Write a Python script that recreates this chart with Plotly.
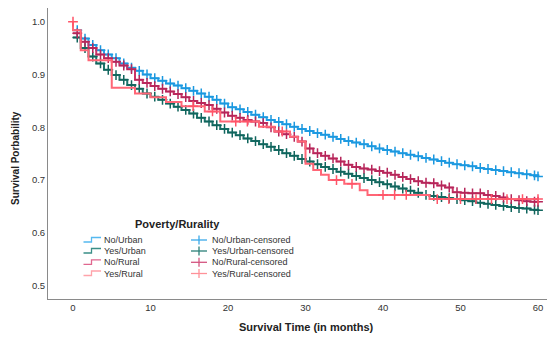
import plotly.graph_objects as go

# ---------------- data ----------------
months = list(range(0, 61))

no_urban = [0.984, 0.968, 0.956, 0.946, 0.938, 0.931, 0.921, 0.913, 0.907, 0.900,
            0.893, 0.888, 0.883, 0.879, 0.874, 0.869, 0.864, 0.858, 0.852, 0.845,
            0.838, 0.834, 0.829, 0.824, 0.819, 0.814, 0.810, 0.806, 0.801, 0.797,
            0.793, 0.789, 0.786, 0.782, 0.778, 0.774, 0.771, 0.768, 0.764, 0.760,
            0.757, 0.754, 0.751, 0.748, 0.745, 0.742, 0.739, 0.736, 0.733, 0.730,
            0.728, 0.726, 0.723, 0.721, 0.719, 0.717, 0.715, 0.713, 0.711, 0.709,
            0.707]

yes_urban = [0.970, 0.950, 0.934, 0.921, 0.909, 0.899, 0.890, 0.880, 0.873, 0.864,
             0.858, 0.852, 0.845, 0.839, 0.833, 0.826, 0.818, 0.811, 0.804, 0.797,
             0.790, 0.785, 0.779, 0.774, 0.768, 0.763, 0.757, 0.751, 0.746, 0.740,
             0.735, 0.730, 0.725, 0.721, 0.716, 0.712, 0.708, 0.704, 0.700, 0.696,
             0.692, 0.688, 0.684, 0.680, 0.676, 0.672, 0.670, 0.668, 0.666, 0.664,
             0.662, 0.660, 0.657, 0.655, 0.653, 0.651, 0.649, 0.647, 0.646, 0.644,
             0.643]

no_rural = [0.978, 0.962, 0.950, 0.938, 0.931, 0.924, 0.917, 0.910, 0.890, 0.884,
            0.878, 0.873, 0.868, 0.863, 0.857, 0.850, 0.846, 0.842, 0.835, 0.828,
            0.822, 0.818, 0.814, 0.811, 0.808, 0.800, 0.792, 0.787, 0.782, 0.773,
            0.760, 0.751, 0.746, 0.741, 0.735, 0.729, 0.725, 0.722, 0.720, 0.717,
            0.714, 0.710, 0.706, 0.702, 0.698, 0.695, 0.694, 0.690, 0.686, 0.677,
            0.676, 0.675, 0.675, 0.672, 0.670, 0.667, 0.664, 0.662, 0.660, 0.659,
            0.659]

yes_rural_times = [0, 0, 1, 2, 5, 8, 10, 12, 14, 17, 19, 24, 26, 28, 29, 30, 31,
                   32, 33, 35, 37, 38, 46, 60]
yes_rural_vals = [1.000, 0.984, 0.946, 0.927, 0.875, 0.864, 0.857, 0.848, 0.840,
                  0.830, 0.811, 0.801, 0.792, 0.782, 0.773, 0.731, 0.719, 0.710,
                  0.700, 0.693, 0.681, 0.672, 0.664, 0.664]
yes_rural_censor_times = [0, 15.5, 18, 21, 22.5, 27, 34, 36, 40, 41.5, 43, 47, 48.5,
                          50, 52, 54, 56, 58, 60]

series_names = ["No/Urban", "Yes/Urban", "No/Rural", "Yes/Rural"]
line_colors = ["#2aa3e8", "#1d746c", "#c93467", "#ff6676"]
mark_colors = ["#1b98df", "#10655d", "#b5265a", "#ff5468"]
legend_line_colors = ["#55b9f0", "#3a8f87", "#e0678f", "#ffa3aa"]
legend_mark_colors = ["#3aa9ea", "#2b7f77", "#d45580", "#ff9198"]

y_ticks = [0.5, 0.6, 0.7, 0.8, 0.9, 1.0]
x_ticks = [0, 10, 20, 30, 40, 50, 60]


def step_value(times, vals, t):
    v = vals[0]
    for ti, vi in zip(times, vals):
        if ti <= t:
            v = vi
    return v


fig = go.Figure()

curves = [(months, no_urban), (months, yes_urban), (months, no_rural)]
for i, (tx, sv) in enumerate(curves):
    fig.add_trace(go.Scatter(x=tx, y=sv, mode="lines", line_shape="hv",
                             line=dict(color=line_colors[i], width=2),
                             showlegend=False, hoverinfo="skip"))
    cx = [t + 0.55 for t in tx[:-1]] + [tx[-1]]
    cy = sv[:-1] + [sv[-1]]
    fig.add_trace(go.Scatter(x=cx, y=cy, mode="markers",
                             marker=dict(symbol="cross-thin", size=7,
                                         line=dict(color=mark_colors[i], width=1.5)),
                             showlegend=False, hoverinfo="skip"))

fig.add_trace(go.Scatter(x=yes_rural_times, y=yes_rural_vals, mode="lines",
                         line_shape="hv", line=dict(color=line_colors[3], width=2),
                         showlegend=False, hoverinfo="skip"))
cy = [step_value(yes_rural_times, yes_rural_vals, t) if t > 0 else 1.0
      for t in yes_rural_censor_times]
fig.add_trace(go.Scatter(x=yes_rural_censor_times, y=cy, mode="markers",
                         marker=dict(symbol="cross-thin", size=7,
                                     line=dict(color=mark_colors[3], width=1.5)),
                         showlegend=False, hoverinfo="skip"))

# ---------------- layout ----------------
# page has an 8px body margin; positions below are page pixels
OFF = 8
PL, PR, PT, PB = 48, 555, 8, 299       # plot area in page pixels
W, H = 555 - OFF, 338 - OFF
L, T = PL - OFF, PT - OFF
R = W - (PR - OFF)
B = H - (PB - OFF)
pw, ph = PR - PL, PB - PT


def xp(px):
    return (px - PL) / pw


def yp(py):
    return (PB - py) / ph


annotations = [
    dict(text="<b>Survival Time (in months)</b>", x=xp(306), y=yp(327), xref="paper",
         yref="paper", showarrow=False, xanchor="center", yanchor="middle",
         font=dict(size=11, color="#222")),
    dict(text="<b>Survival Porbability</b>", x=xp(16), y=yp(158), xref="paper",
         yref="paper", showarrow=False, xanchor="center", yanchor="middle",
         textangle=-90, font=dict(size=10, color="#222")),
    dict(text="<b>Poverty/Rurality</b>", x=xp(177), y=yp(223.5), xref="paper",
         yref="paper", showarrow=False, xanchor="center", yanchor="middle",
         font=dict(size=11, color="#222")),
]
shapes = []
row_y = [240, 251, 262.3, 273.5]
for i, name in enumerate(series_names):
    ry = row_y[i]
    annotations.append(dict(text=name, x=xp(102), y=yp(ry), xref="paper", yref="paper",
                            showarrow=False, xanchor="left", yanchor="middle",
                            font=dict(size=9, color="#333")))
    annotations.append(dict(text=name + "-censored", x=xp(209.5), y=yp(ry),
                            xref="paper", yref="paper", showarrow=False,
                            xanchor="left", yanchor="middle",
                            font=dict(size=9, color="#333")))
    path = "M {:.5f},{:.5f} L {:.5f},{:.5f} L {:.5f},{:.5f} L {:.5f},{:.5f}".format(
        xp(83.5), yp(ry + 2), xp(91.5), yp(ry + 2), xp(91.5), yp(ry - 2.5),
        xp(101), yp(ry - 2.5))
    shapes.append(dict(type="path", path=path, xref="paper", yref="paper",
                       line=dict(color=legend_line_colors[i], width=1.3)))
    shapes.append(dict(type="line", xref="paper", yref="paper", x0=xp(191), x1=xp(207),
                       y0=yp(ry), y1=yp(ry),
                       line=dict(color=legend_mark_colors[i], width=1.3)))
    shapes.append(dict(type="line", xref="paper", yref="paper", x0=xp(199), x1=xp(199),
                       y0=yp(ry - 4.5), y1=yp(ry + 4.5),
                       line=dict(color=legend_mark_colors[i], width=1.3)))

y_top = 1.0 + (21.7 - PT) / 528.0
y_bot = 1.0 - (PB - 21.7) / 528.0
x_left = (PL - 73.0) / 7.75
x_right = (PR - 73.0) / 7.75

fig.update_layout(
    width=W, height=H,
    margin=dict(l=L, r=R, t=T, b=B, pad=0),
    paper_bgcolor="white", plot_bgcolor="white",
    font=dict(family="Liberation Sans, Arial, sans-serif", color="#333"),
    showlegend=False,
    xaxis=dict(range=[x_left, x_right], tickvals=x_ticks,
               ticktext=[str(v) for v in x_ticks],
               showgrid=False, zeroline=False, showline=True, linecolor="#8a8a8a",
               linewidth=1, ticks="", tickfont=dict(size=9.5, color="#333")),
    yaxis=dict(range=[y_bot, y_top], tickvals=y_ticks,
               ticktext=["{:.1f}".format(v) for v in y_ticks],
               showgrid=False, zeroline=False, showline=True, linecolor="#8a8a8a",
               linewidth=1, ticks="", tickfont=dict(size=9.5, color="#333")),
    annotations=annotations, shapes=shapes,
)

fig.write_html("out.html")
